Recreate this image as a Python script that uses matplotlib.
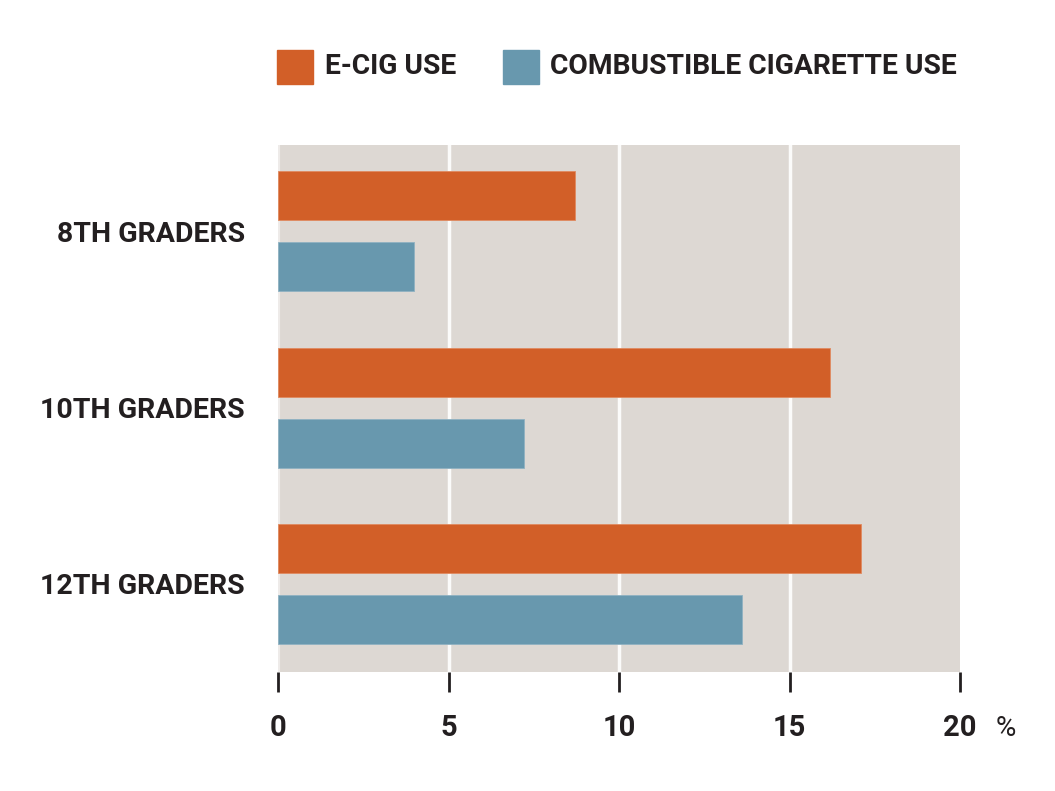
import matplotlib
matplotlib.use("Agg")
import matplotlib.pyplot as plt
from matplotlib.patches import Rectangle

plt.rcParams['font.family'] = ['Roboto', 'DejaVu Sans']

grades = ["8TH GRADERS", "10TH GRADERS", "12TH GRADERS"]
ecig = [8.7, 16.2, 17.1]
combustible = [4.0, 7.2, 13.6]
xticks = [0, 5, 10, 15, 20]

orange = "#D25F28"
blue = "#6898AE"
bg = "#DDD8D3"
ink = "#231F20"

fig = plt.figure(figsize=(10.55, 7.91), dpi=100)
ax = fig.add_axes([278 / 1055, 1 - 672 / 791, (960 - 278) / 1055, (672 - 145) / 791])
ax.set_facecolor(bg)

pos = list(range(len(grades)))
h = 49 / 176
off = 35.5 / 176
ax.barh([p - off for p in pos], ecig, height=h, color=orange, edgecolor="#E08A60", linewidth=0.6, zorder=3)
ax.barh([p + off for p in pos], combustible, height=h, color=blue, edgecolor="#8FB2C2", linewidth=0.6, zorder=3)

ax.set_xlim(0, 20)
ax.set_ylim(2.5, -0.49)
for s in ax.spines.values():
    s.set_visible(False)

for x in xticks[:-1]:
    ax.axvline(x, color="white", lw=2.5 if x else 3, alpha=0.9 if x else 0.5, zorder=1)

ax.set_xticks(xticks)
ax.set_xticklabels([str(t) for t in xticks], fontsize=21, fontweight="bold", color=ink)
ax.tick_params(axis="x", length=14.5, width=2, color=ink, pad=16, direction="out")
ax.set_yticks(pos)
ax.set_yticklabels(grades, fontsize=20.5, fontweight="bold", color=ink)
ax.tick_params(axis="y", length=0, pad=24)
ax.text(21.35, 2.5 + 56 / 176, "%", fontsize=20, color=ink, ha="center", va="center", clip_on=False)

# legend
fig.patches.append(Rectangle((277 / 1055, 1 - 84 / 791), 36 / 1055, 34 / 791,
                             transform=fig.transFigure, color=orange))
fig.text(325 / 1055, 1 - 67 / 791, "E-CIG USE", fontsize=20.3, fontweight="bold", color=ink, va="center")
fig.patches.append(Rectangle((503 / 1055, 1 - 84 / 791), 36 / 1055, 34 / 791,
                             transform=fig.transFigure, color=blue))
fig.text(550 / 1055, 1 - 67 / 791, "COMBUSTIBLE CIGARETTE USE", fontsize=20.3, fontweight="bold",
         color=ink, va="center")

fig.savefig("out.png", dpi=100, facecolor="white")
